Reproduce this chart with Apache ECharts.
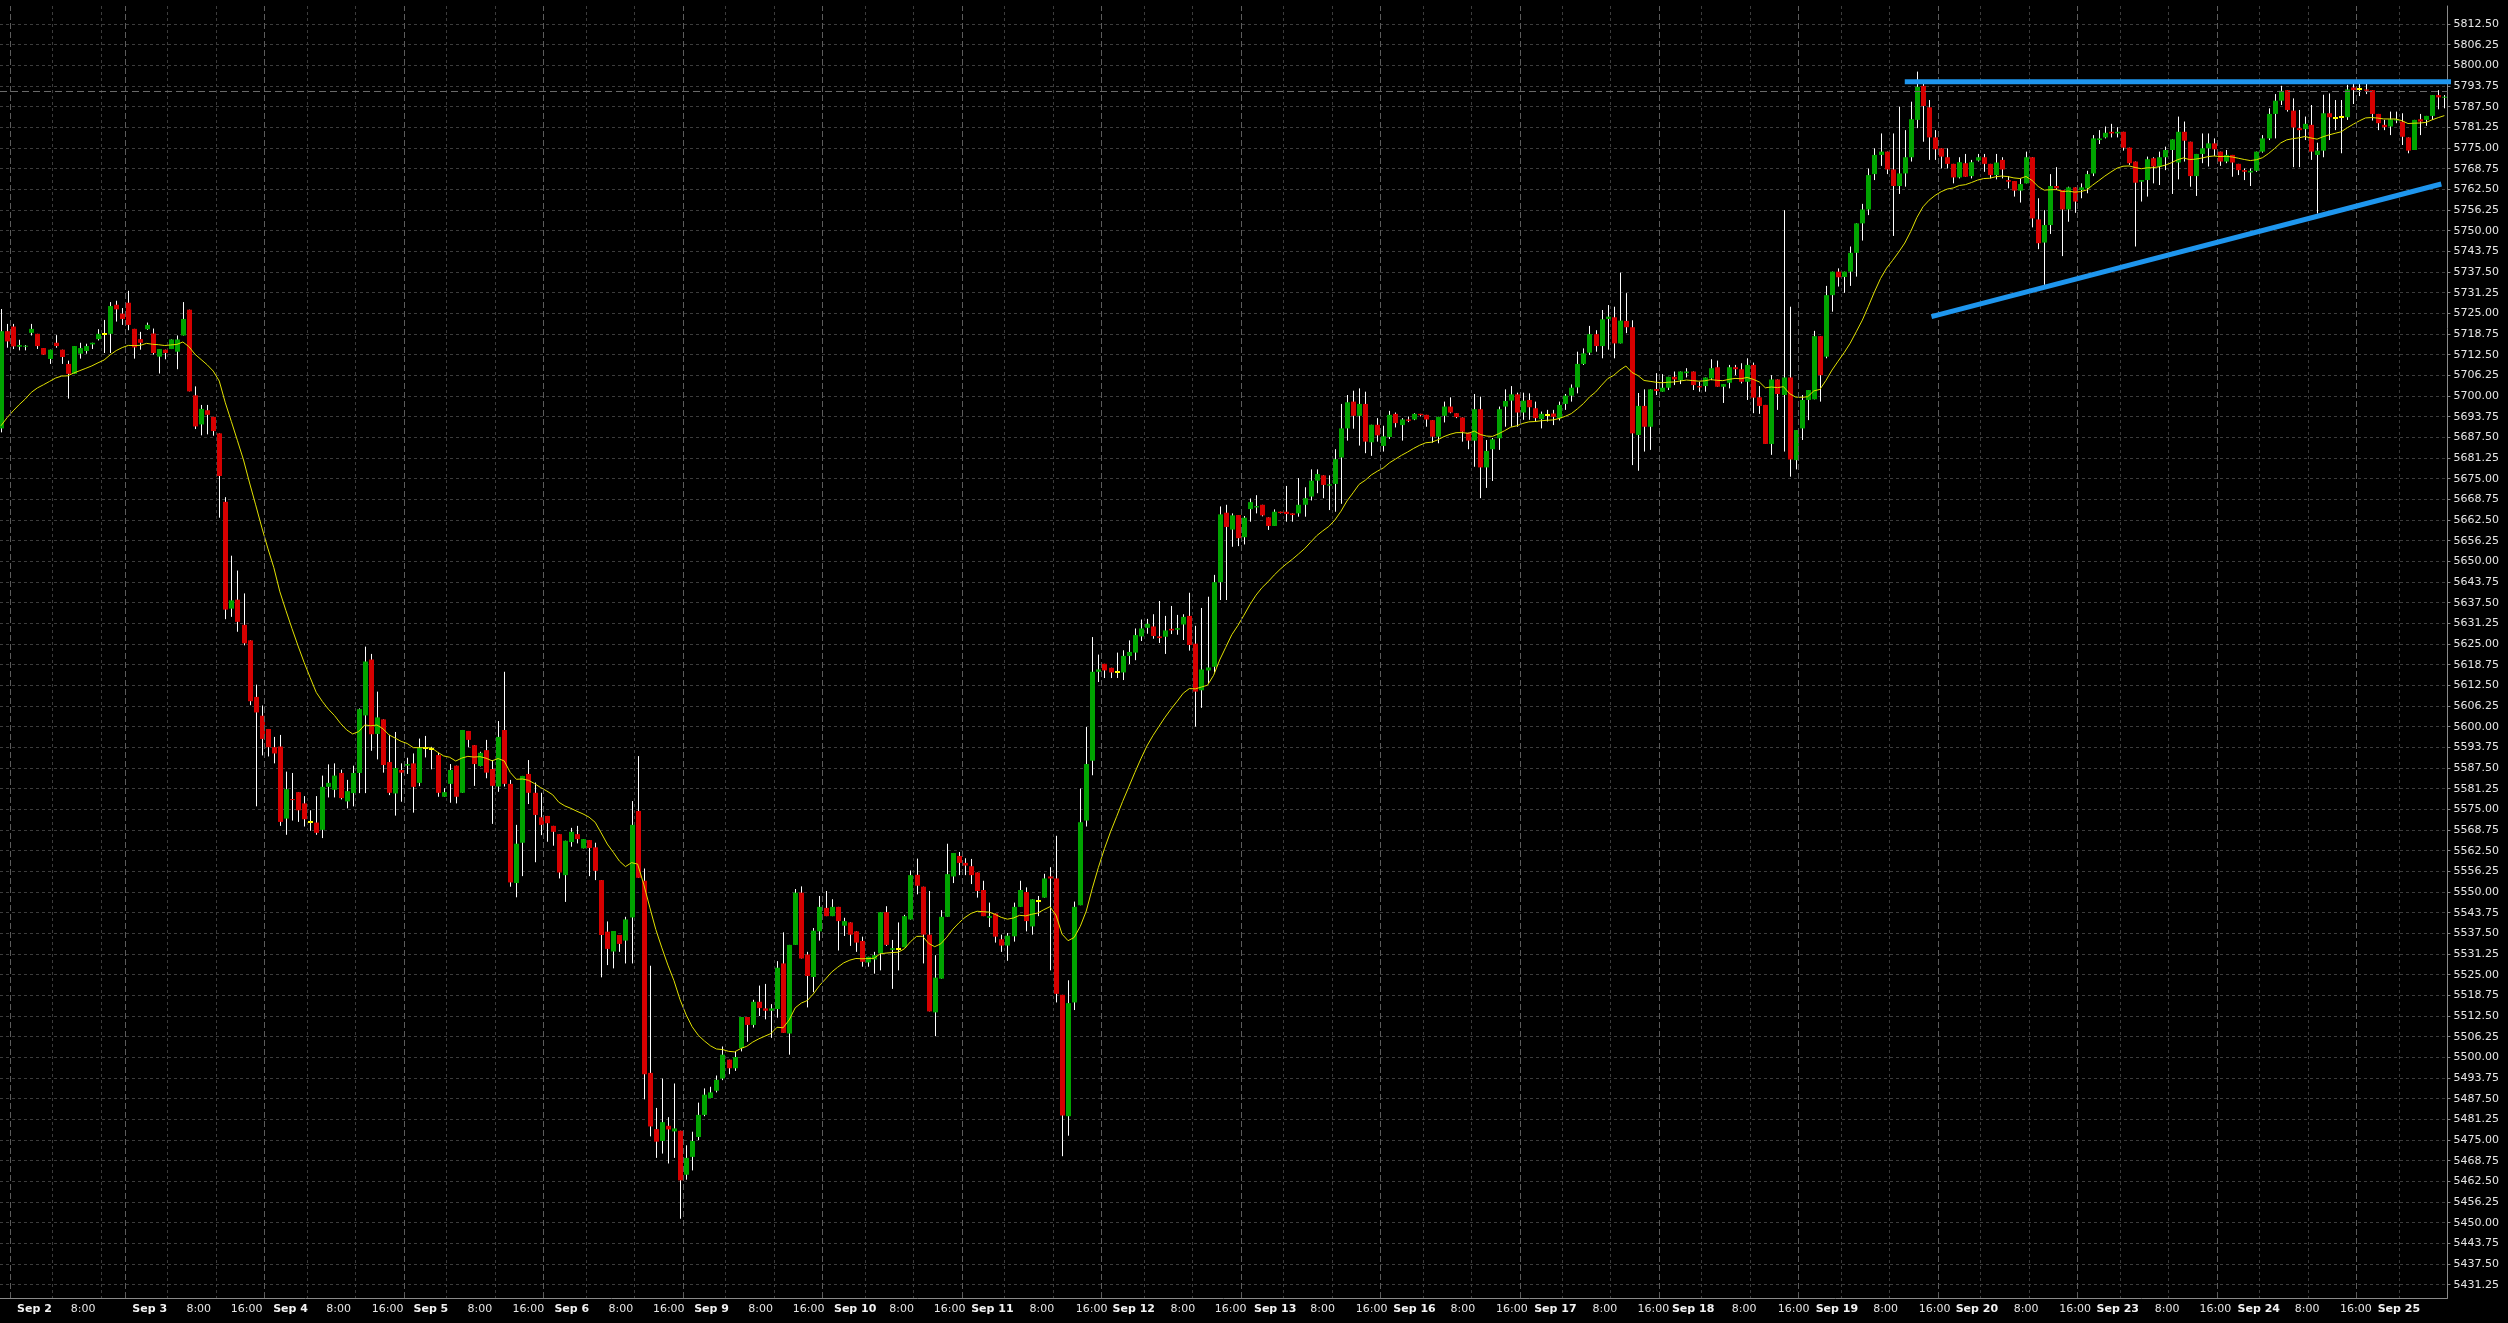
<!DOCTYPE html>
<html><head><meta charset="utf-8">
<script src="https://cdn.jsdelivr.net/npm/echarts@6/dist/echarts.min.js"></script>
<style>html,body{margin:0;padding:0;background:#000;}#c{width:2508px;height:1323px;}</style>
</head><body><div id="c"></div>
<script>
// ---- data (hourly bars, index 0 = last bar of Aug 30) ----
const opens = [
5690.2,5719.6,5721.0,5714.9,5715.0,5719.1,5718.8,5714.5,5711.2,5716.1,
5714.0,5709.7,5706.7,5712.8,5713.6,5715.6,5717.2,5718.8,5718.8,5727.6,
5724.9,5728.2,5720.3,5717.2,5720.2,5718.9,5711.9,5714.0,5714.2,5713.4,
5718.3,5726.1,5700.2,5691.4,5695.7,5693.7,5688.7,5668.0,5635.7,5638.4,
5630.8,5626.1,5609.0,5603.3,5599.3,5593.8,5594.0,5572.2,5578.1,5580.2,
5576.8,5571.2,5571.0,5568.8,5581.8,5580.9,5586.0,5577.4,5579.9,5586.0,
5603.4,5620.3,5597.8,5602.2,5589.3,5579.8,5586.9,5588.2,5588.9,5583.0,
5593.6,5593.1,5591.4,5578.8,5582.7,5588.2,5580.0,5598.7,5594.4,5588.1,
5592.9,5587.2,5581.9,5599.0,5582.7,5552.7,5564.9,5585.7,5580.0,5572.6,
5573.0,5570.0,5567.5,5555.1,5565.1,5567.5,5563.2,5565.7,5563.5,5553.6,
5538.0,5532.0,5537.0,5535.3,5542.3,5574.5,5553.4,5495.3,5478.3,5474.7,
5479.3,5477.6,5477.8,5464.5,5469.9,5475.9,5482.6,5487.7,5489.9,5493.6,
5499.3,5496.7,5502.8,5512.2,5509.8,5516.8,5514.8,5514.1,5514.6,5528.4,
5507.2,5534.0,5549.8,5531.1,5524.3,5538.1,5545.2,5542.7,5545.5,5539.8,
5540.8,5538.1,5535.2,5528.7,5529.6,5531.4,5543.9,5532.5,5532.8,5533.3,
5541.7,5555.2,5551.6,5537.1,5513.6,5523.8,5542.5,5554.7,5560.9,5558.8,
5557.8,5555.9,5550.6,5542.2,5543.5,5535.7,5533.8,5536.6,5545.5,5550.0,
5539.6,5547.4,5548.3,5554.7,5554.1,5518.9,5482.2,5516.6,5546.0,5571.6,
5589.7,5616.6,5619.0,5617.8,5616.4,5616.4,5621.4,5622.4,5627.3,5629.9,
5630.3,5627.3,5627.2,5629.6,5629.3,5630.9,5633.5,5625.1,5611.0,5617.0,
5618.1,5643.7,5664.7,5659.6,5664.0,5657.3,5665.8,5666.3,5667.1,5663.3,
5660.7,5665.0,5665.0,5664.5,5664.5,5667.1,5669.6,5674.4,5676.0,5672.9,
5673.4,5681.4,5690.2,5698.3,5694.0,5697.6,5686.0,5691.3,5684.9,5687.6,
5694.6,5691.2,5692.9,5692.9,5694.6,5694.3,5692.7,5687.7,5694.0,5696.8,
5694.8,5693.5,5688.9,5686.5,5696.0,5678.4,5683.9,5687.2,5696.8,5698.6,
5700.5,5695.0,5698.8,5696.3,5693.0,5694.2,5694.7,5693.3,5697.6,5700.1,
5702.6,5709.7,5713.1,5718.7,5715.1,5723.3,5723.8,5715.9,5722.7,5720.8,
5688.2,5697.0,5690.7,5702.1,5701.3,5702.5,5705.8,5704.8,5706.9,5707.4,
5703.0,5703.0,5705.3,5708.7,5702.8,5704.0,5708.7,5708.1,5704.3,5709.4,
5699.6,5697.3,5685.5,5705.0,5700.3,5705.6,5680.6,5690.2,5698.8,5699.0,
5718.1,5711.9,5730.5,5737.6,5736.0,5737.6,5743.3,5752.2,5756.4,5767.1,
5772.9,5773.9,5768.5,5763.5,5767.3,5772.2,5783.5,5793.8,5787.3,5778.2,
5774.9,5772.2,5770.2,5766.1,5770.4,5766.5,5771.2,5772.2,5770.2,5766.8,
5771.4,5765.3,5765.0,5762.1,5764.3,5772.2,5753.4,5746.4,5751.7,5763.5,
5762.3,5756.4,5763.1,5762.3,5762.8,5767.3,5777.4,5778.2,5779.9,5779.4,
5779.9,5775.1,5770.9,5764.8,5765.3,5771.9,5769.4,5772.2,5774.4,5770.6,
5779.9,5776.9,5766.5,5773.2,5774.9,5776.4,5773.9,5770.9,5772.9,5770.2,
5768.3,5767.6,5768.1,5773.9,5777.9,5785.3,5789.3,5792.5,5786.3,5781.0,
5780.7,5782.0,5772.9,5774.2,5785.5,5784.0,5784.3,5784.3,5793.3,5792.9,
5792.7,5792.5,5785.3,5782.0,5781.5,5783.3,5783.0,5778.2,5774.4,5783.7,
5783.5,5784.7,5791.0,5790.3];
const closes = [
5719.6,5716.5,5715.0,5715.4,5715.2,5720.3,5715.1,5712.5,5714.0,5715.1,
5711.8,5706.7,5715.1,5714.5,5715.1,5716.1,5718.8,5718.8,5727.2,5726.2,
5723.3,5721.5,5714.7,5716.1,5721.5,5713.0,5714.2,5713.0,5717.1,5717.1,
5723.3,5701.4,5690.8,5696.1,5694.3,5689.4,5675.8,5635.4,5638.2,5631.7,
5625.2,5607.7,5604.3,5596.3,5593.8,5591.9,5571.2,5581.1,5577.8,5574.7,
5572.0,5571.2,5567.9,5581.8,5583.0,5585.2,5578.4,5580.5,5586.0,5605.3,
5619.7,5597.7,5602.8,5588.4,5580.0,5587.5,5586.1,5588.7,5581.8,5593.6,
5593.6,5593.1,5580.0,5580.2,5586.9,5578.8,5599.0,5596.0,5588.7,5592.1,
5586.1,5582.1,5596.9,5582.7,5552.9,5564.6,5585.1,5580.0,5573.3,5570.3,
5570.8,5568.2,5555.9,5565.5,5568.2,5566.0,5566.0,5563.3,5556.4,5537.0,
5532.8,5538.2,5534.3,5541.7,5570.3,5554.3,5494.9,5479.1,5474.5,5480.4,
5478.2,5478.5,5462.8,5469.6,5474.7,5482.6,5488.7,5489.4,5493.2,5500.8,
5496.7,5500.1,5512.2,5509.8,5516.8,5514.9,5514.1,5514.8,5527.1,5507.4,
5534.0,5549.8,5529.9,5524.6,5538.3,5545.5,5542.7,5545.5,5541.2,5541.2,
5537.1,5534.7,5528.9,5530.4,5530.9,5543.9,5534.0,5533.0,5532.8,5542.7,
5555.1,5551.9,5537.1,5513.9,5524.1,5542.5,5555.4,5561.8,5558.8,5558.0,
5555.1,5550.3,5542.7,5542.7,5536.5,5533.8,5536.8,5545.5,5550.6,5541.2,
5547.8,5547.4,5554.1,5554.1,5519.2,5482.4,5516.4,5545.5,5571.1,5588.7,
5616.6,5617.3,5617.0,5616.4,5616.4,5621.4,5622.6,5627.7,5629.7,5631.1,
5627.4,5626.8,5629.1,5629.1,5629.8,5633.2,5624.7,5610.6,5617.3,5617.9,
5643.7,5664.2,5660.4,5663.9,5657.0,5663.2,5667.9,5666.7,5663.9,5660.7,
5665.0,5664.6,5664.3,5664.0,5667.1,5669.1,5674.4,5676.4,5673.1,5673.3,
5680.9,5690.2,5698.1,5694.0,5697.6,5686.2,5691.3,5688.1,5687.8,5694.3,
5691.8,5692.9,5692.5,5694.6,5694.2,5692.9,5687.7,5693.7,5696.8,5695.0,
5693.6,5689.2,5686.5,5696.0,5678.4,5683.4,5686.9,5696.0,5698.5,5700.5,
5695.0,5698.6,5696.6,5693.3,5694.6,5694.2,5693.7,5697.3,5700.1,5702.5,
5709.7,5712.9,5718.7,5715.1,5723.2,5724.0,5715.9,5722.8,5720.8,5688.7,
5697.0,5690.7,5702.0,5701.5,5702.5,5705.8,5705.0,5707.4,5707.4,5703.3,
5702.6,5705.6,5708.4,5702.8,5703.6,5708.7,5708.1,5704.3,5709.4,5699.5,
5697.0,5685.5,5705.0,5700.6,5705.6,5680.8,5689.7,5698.8,5701.8,5718.1,
5706.3,5730.5,5737.6,5735.9,5737.6,5743.3,5752.2,5756.4,5766.8,5772.9,
5773.9,5768.5,5763.5,5767.3,5772.2,5783.7,5793.5,5787.7,5778.2,5774.6,
5772.4,5770.2,5766.1,5770.7,5766.3,5770.7,5772.2,5770.2,5766.8,5770.6,
5768.5,5764.8,5762.1,5764.1,5772.2,5753.7,5746.2,5751.7,5763.5,5762.8,
5756.4,5763.1,5758.8,5763.1,5767.1,5777.9,5777.9,5779.6,5779.4,5779.9,
5775.1,5770.4,5764.5,5765.3,5771.6,5769.4,5772.2,5774.4,5777.6,5779.9,
5777.2,5766.5,5773.2,5774.9,5776.4,5774.6,5770.9,5772.9,5770.6,5768.3,
5767.8,5768.1,5773.9,5777.9,5785.3,5789.3,5792.3,5786.5,5781.2,5780.4,
5782.3,5773.9,5774.2,5785.5,5784.3,5784.0,5784.3,5792.7,5792.5,5792.9,
5792.3,5785.3,5782.5,5781.3,5783.7,5783.7,5778.4,5774.2,5783.5,5783.0,
5784.7,5791.0,5790.3,5790.5];
const lows = [
5689.0,5714.6,5714.2,5713.8,5713.8,5718.3,5714.2,5712.5,5709.7,5714.6,
5709.7,5699.2,5706.7,5711.3,5712.8,5714.2,5716.8,5713.0,5713.0,5722.5,
5721.5,5719.9,5711.3,5714.0,5720.0,5712.5,5706.8,5711.1,5714.2,5708.1,
5718.3,5701.4,5690.0,5688.1,5688.4,5688.0,5663.2,5632.5,5633.2,5628.7,
5624.6,5606.5,5575.9,5591.3,5591.0,5588.9,5570.0,5567.3,5571.6,5571.2,
5569.8,5568.5,5567.3,5566.3,5578.6,5578.6,5578.0,5575.3,5575.9,5579.9,
5579.9,5592.7,5590.1,5586.1,5579.3,5573.1,5577.3,5585.7,5574.0,5582.0,
5590.7,5587.1,5578.8,5578.8,5577.0,5576.8,5580.0,5593.8,5582.1,5588.0,
5584.4,5570.6,5580.3,5581.9,5551.6,5548.4,5554.8,5576.6,5559.0,5567.2,
5565.2,5564.0,5554.1,5547.0,5563.7,5564.7,5563.2,5554.8,5553.6,5524.2,
5527.9,5526.9,5531.9,5528.4,5528.4,5554.3,5487.3,5476.1,5469.6,5470.9,
5467.9,5469.6,5451.2,5463.0,5465.8,5475.0,5482.2,5487.7,5489.4,5493.1,
5494.9,5495.9,5501.8,5504.7,5509.0,5512.5,5511.5,5505.9,5512.0,5507.4,
5500.8,5534.0,5529.9,5515.1,5519.7,5535.3,5542.7,5542.7,5532.3,5536.7,
5533.7,5531.9,5527.4,5527.4,5525.3,5526.3,5533.7,5520.7,5526.3,5533.3,
5541.7,5549.3,5528.4,5513.9,5506.4,5523.8,5542.5,5552.7,5555.1,5555.1,
5552.4,5548.3,5542.7,5539.4,5534.7,5531.9,5529.2,5535.0,5545.5,5538.1,
5537.1,5542.7,5548.3,5526.3,5516.6,5470.1,5476.3,5514.3,5546.0,5569.8,
5585.3,5613.5,5614.7,5614.7,5614.7,5614.1,5618.9,5620.1,5625.9,5628.1,
5626.6,5625.3,5622.0,5628.0,5627.8,5626.2,5623.0,5600.0,5605.7,5612.9,
5616.4,5638.3,5638.3,5654.4,5654.6,5655.1,5662.0,5664.5,5663.6,5659.5,
5660.7,5664.5,5662.0,5662.0,5663.5,5663.5,5668.4,5670.6,5669.1,5665.5,
5665.0,5667.4,5686.5,5690.1,5685.0,5682.7,5681.9,5686.2,5683.2,5687.0,
5690.5,5686.5,5692.1,5692.7,5693.8,5690.7,5685.9,5685.7,5692.0,5694.8,
5693.3,5686.2,5683.9,5678.6,5669.1,5672.2,5674.3,5683.7,5690.7,5690.7,
5690.7,5692.8,5692.8,5692.3,5690.2,5692.3,5691.2,5692.6,5695.8,5698.3,
5700.8,5709.4,5712.4,5713.4,5711.4,5714.0,5711.4,5715.9,5719.0,5679.1,
5677.4,5683.2,5683.7,5700.3,5701.3,5701.8,5703.3,5703.6,5705.6,5701.8,
5701.3,5701.3,5704.8,5702.8,5697.9,5702.3,5706.3,5703.8,5698.8,5694.8,
5694.6,5685.5,5682.2,5695.8,5683.2,5675.6,5677.8,5686.7,5692.7,5699.0,
5698.3,5711.4,5725.5,5733.1,5731.2,5733.3,5736.1,5747.0,5754.7,5765.3,
5769.6,5767.1,5748.4,5761.1,5763.3,5770.9,5781.0,5776.9,5771.4,5771.4,
5768.8,5768.8,5764.3,5765.8,5766.3,5765.8,5770.9,5767.8,5765.8,5765.5,
5765.8,5762.8,5760.3,5758.5,5764.3,5751.0,5744.4,5733.6,5749.0,5762.3,
5742.3,5752.7,5755.4,5759.8,5761.3,5766.5,5776.2,5777.9,5778.2,5778.2,
5774.2,5769.9,5745.2,5758.8,5760.3,5764.3,5763.8,5768.3,5761.1,5765.5,
5770.9,5763.3,5760.5,5770.4,5769.4,5772.6,5769.6,5770.4,5766.3,5766.8,
5765.3,5763.5,5767.8,5773.6,5777.4,5777.9,5788.0,5786.0,5769.2,5769.2,
5777.4,5771.4,5755.2,5772.2,5777.4,5780.4,5773.4,5783.5,5788.3,5790.7,
5791.3,5783.3,5780.4,5780.4,5778.9,5782.5,5775.9,5773.4,5774.4,5778.9,
5781.7,5783.5,5786.7,5787.0];
const highs = [
5726.3,5721.8,5721.8,5717.0,5715.4,5721.8,5718.8,5714.5,5714.0,5718.4,
5714.0,5710.7,5715.1,5716.1,5715.8,5716.1,5720.2,5723.0,5728.4,5728.8,
5726.6,5731.8,5720.3,5719.4,5722.2,5720.4,5714.2,5714.0,5717.1,5718.3,
5728.4,5726.1,5702.9,5697.3,5697.3,5693.7,5688.7,5669.4,5651.7,5647.2,
5640.3,5626.1,5612.7,5606.4,5599.3,5596.9,5597.5,5586.4,5586.0,5580.2,
5579.0,5574.7,5579.0,5585.2,5588.6,5588.9,5587.0,5583.9,5588.2,5605.5,
5624.2,5622.0,5610.6,5602.2,5597.5,5598.4,5588.9,5590.6,5591.9,5596.4,
5597.2,5593.9,5592.1,5581.4,5588.7,5588.2,5599.0,5598.7,5594.4,5592.4,
5596.0,5589.9,5601.7,5616.6,5583.9,5570.3,5585.1,5589.9,5583.1,5580.0,
5573.0,5570.0,5567.5,5565.5,5569.4,5570.0,5566.0,5565.7,5564.9,5553.6,
5541.1,5538.2,5537.0,5542.5,5577.5,5591.1,5557.1,5527.7,5484.7,5493.6,
5481.9,5492.1,5477.8,5473.4,5477.5,5486.3,5490.6,5491.1,5494.5,5503.3,
5499.3,5501.8,5512.2,5512.2,5517.4,5521.7,5522.2,5516.1,5529.1,5537.8,
5534.0,5550.9,5551.7,5531.9,5539.1,5548.8,5550.3,5547.8,5545.5,5542.2,
5540.8,5538.1,5536.5,5530.4,5531.9,5543.9,5545.7,5535.5,5540.8,5543.1,
5556.5,5560.1,5551.6,5550.3,5530.9,5544.5,5564.6,5561.8,5562.1,5560.2,
5560.0,5555.9,5553.4,5546.8,5543.5,5537.1,5537.6,5546.8,5553.4,5551.4,
5547.8,5548.8,5555.5,5557.5,5567.0,5518.9,5523.3,5547.1,5581.3,5599.9,
5627.1,5621.8,5619.0,5617.8,5622.4,5623.1,5626.1,5629.7,5632.4,5632.6,
5634.0,5638.0,5633.5,5636.5,5633.8,5634.0,5640.5,5630.5,5635.9,5639.3,
5645.9,5666.6,5667.1,5664.5,5664.0,5663.7,5669.0,5670.0,5667.1,5663.3,
5665.7,5665.0,5672.8,5664.5,5675.2,5672.4,5677.8,5677.8,5676.0,5676.0,
5683.9,5697.6,5700.3,5701.6,5702.3,5701.3,5691.3,5693.3,5691.0,5695.5,
5695.0,5693.3,5693.8,5694.8,5694.6,5694.3,5692.7,5693.7,5698.3,5699.6,
5694.8,5693.5,5688.9,5700.6,5699.8,5686.7,5687.3,5696.8,5702.0,5703.0,
5701.0,5701.0,5700.8,5698.3,5695.3,5695.8,5695.8,5698.3,5700.6,5703.5,
5713.4,5714.4,5721.2,5719.9,5726.0,5727.5,5727.0,5737.3,5731.1,5722.9,
5700.9,5702.0,5702.0,5706.9,5706.6,5705.8,5707.4,5707.4,5708.4,5707.4,
5704.3,5705.6,5711.1,5710.7,5703.6,5709.4,5709.4,5709.9,5711.4,5710.1,
5703.0,5697.3,5706.3,5705.0,5756.2,5727.0,5689.7,5700.3,5701.8,5719.7,
5718.1,5733.3,5737.6,5738.6,5737.6,5745.2,5752.2,5758.1,5768.8,5774.9,
5779.4,5773.9,5779.4,5787.5,5780.4,5789.0,5798.1,5795.1,5789.5,5780.4,
5774.9,5774.9,5770.2,5772.2,5773.2,5771.4,5773.2,5773.2,5770.2,5773.2,
5772.2,5766.5,5765.0,5765.8,5773.9,5772.2,5759.8,5756.2,5767.1,5769.2,
5762.3,5763.3,5763.1,5764.3,5768.1,5778.9,5780.4,5781.5,5782.3,5781.3,
5779.9,5775.1,5770.9,5765.3,5772.4,5772.2,5773.9,5775.4,5777.6,5784.5,
5783.0,5776.9,5773.2,5779.4,5779.4,5777.9,5773.9,5774.4,5772.9,5770.2,
5768.8,5768.8,5773.9,5778.9,5787.0,5791.3,5793.8,5792.5,5790.0,5786.5,
5784.5,5788.0,5776.6,5791.1,5791.5,5789.5,5789.5,5794.1,5794.6,5794.6,
5794.6,5792.5,5785.3,5783.5,5786.0,5786.0,5785.5,5778.2,5783.5,5785.3,
5784.7,5791.0,5792.5,5791.0];

// first bar index of each trading day: Sep 2,3,4,5,6,9,10,11,12,13,16,17,18,19,20,23,24,25
const dayStartBar = [1,20,43,66,89,112,135,158,181,204,227,250,273,296,319,342,365,388];
// time-axis labels (position in bar units) and their texts
const xLabelPos = [2.655,11.496,21.656,30.579,37.902,44.895,53.636,61.141,68.035,76.958,84.38,
  91.274,100.198,107.521,114.333,123.256,130.579,137.39,146.512,153.835,160.02,169.65,177.26,
  183.34,192.89,200.21,206.66,215.95,223.45,229.64,239.09,246.59,252.88,262.49,269.91,275.6,
  285.47,293.04,299.31,308.81,316.3,322.4,331.97,339.47,345.64,355.22,362.63,368.89,378.31,385.8,392.0];
const xLabelText = ['Sep 2','8:00','Sep 3','8:00','16:00','Sep 4','8:00','16:00','Sep 5','8:00','16:00',
  'Sep 6','8:00','16:00','Sep 9','8:00','16:00','Sep 10','8:00','16:00','Sep 11','8:00','16:00',
  'Sep 12','8:00','16:00','Sep 13','8:00','16:00','Sep 16','8:00','16:00','Sep 17','8:00','16:00','Sep 18',
  '8:00','16:00','Sep 19','8:00','16:00','Sep 20','8:00','16:00','Sep 23','8:00','16:00','Sep 24','8:00','16:00','Sep 25'];
const yTicks = [5431.25,5437.5,5443.75,5450,5456.25,5462.5,5468.75,5475,5481.25,5487.5,5493.75,5500,
  5506.25,5512.5,5518.75,5525,5531.25,5537.5,5543.75,5550,5556.25,5562.5,5568.75,5575,5581.25,5587.5,
  5593.75,5600,5606.25,5612.5,5618.75,5625,5631.25,5637.5,5643.75,5650,5656.25,5662.5,5668.75,5675,
  5681.25,5687.5,5693.75,5700,5706.25,5712.5,5718.75,5725,5731.25,5737.5,5743.75,5750,5756.25,5762.5,
  5768.75,5775,5781.25,5787.5,5793.75,5800,5806.25,5812.5];
const maPeriod = 20;          // exponential moving average of closes
const maStart = 5688;         // MA value at left edge
const bidLevel = 5792.25;
const resistanceLine = [[314.0, 5795.05], [404.75, 5795.05]];
const supportLine = [[318.4, 5724.0], [402.5, 5764.1]];

// ---- build ----
const N = opens.length;
const candleData = [];
for (let i = 0; i < N; i++) candleData.push([i, opens[i], closes[i], lows[i], highs[i]]);
const ma = [];
let e = maStart; const a = 2 / (maPeriod + 1);
for (let i = 0; i < N; i++) { e = e + a * (closes[i] - e); ma.push([i, +e.toFixed(3)]); }
const gridBars = [];
dayStartBar.forEach(d => { gridBars.push(d + 7.5, d + 15.5); });

const chart = echarts.init(document.getElementById('c'), null, {renderer: 'canvas'});
const GREEN = '#00a300', RED = '#d60000', DOJI = '#ffff00';
chart.setOption({
  animation: false,
  backgroundColor: '#000000',
  grid: {left: 0, right: 60.6, top: 6, bottom: 25, containLabel: false},
  xAxis: {
    type: 'value', min: -0.165, max: 403.5,
    axisLine: {show: true, onZero: false, lineStyle: {color: '#8a8a8a', width: 1}},
    axisTick: {show: false, customValues: gridBars},
    splitLine: {show: true, lineStyle: {color: '#3c3c3c', width: 1, type: [3, 3]}},
    axisLabel: {
      customValues: xLabelPos, align: 'left', margin: 6,
      formatter: function (v) {
        const k = xLabelPos.findIndex(p => Math.abs(p - v) < 1e-6);
        if (k < 0) return '';
        const t = xLabelText[k];
        return t.indexOf(':') >= 0 ? '{n|' + t + '}' : '{b|' + t + '}';
      },
      rich: {
        b: {fontFamily: 'DejaVu Sans', fontSize: 11, fontWeight: 'bold', color: '#f2f2f2'},
        n: {fontFamily: 'DejaVu Sans', fontSize: 11, fontWeight: 'normal', color: '#e6e6e6'}
      }
    }
  },
  yAxis: {
    type: 'value', position: 'right', min: 5427.22, max: 5817.94, scale: true,
    axisLine: {show: true, onZero: false, lineStyle: {color: '#8a8a8a', width: 1}},
    axisTick: {show: true, customValues: yTicks, length: 3, lineStyle: {color: '#8a8a8a'}},
    splitLine: {show: true, lineStyle: {color: '#3c3c3c', width: 1, type: [3, 3]}},
    axisLabel: {customValues: yTicks, margin: 6, color: '#e6e6e6', fontFamily: 'DejaVu Sans', fontSize: 11,
      formatter: v => Number(v).toFixed(2)}
  },
  series: [
    {
      type: 'custom', name: 'price', data: candleData, clip: true, z: 2,
      encode: {x: 0, y: [1, 2, 3, 4]},
      renderItem: function (params, api) {
        const i = api.value(0), o = api.value(1), c = api.value(2), l = api.value(3), h = api.value(4);
        const pO = api.coord([i, o]), pC = api.coord([i, c]), pL = api.coord([i, l]), pH = api.coord([i, h]);
        const cx = Math.round(pO[0]);
        const ch = [{type: 'line', shape: {x1: cx + 0.5, y1: pH[1], x2: cx + 0.5, y2: pL[1]},
          style: {stroke: '#ffffff', lineWidth: 1}}];
        const top = Math.min(pO[1], pC[1]), bot = Math.max(pO[1], pC[1]);
        if (o === c) {
          ch.push({type: 'rect', shape: {x: cx - 2, y: Math.round(top) - 1, width: 5, height: 2}, style: {fill: DOJI}});
        } else {
          ch.push({type: 'rect', shape: {x: cx - 2, y: top, width: 5, height: Math.max(bot - top, 1)},
            style: {fill: c > o ? GREEN : RED}});
        }
        return {type: 'group', children: ch};
      }
    },
    {
      type: 'line', name: 'MA', data: ma, symbol: 'none', z: 3, silent: true,
      lineStyle: {color: '#e1e100', width: 1},
      markLine: {
        silent: true, symbol: ['none', 'none'], label: {show: false}, animation: false,
        data: dayStartBar.map(d => ({xAxis: d + 0.5, lineStyle: {color: '#5c5c5c', width: 1, type: [6, 3]}}))
          .concat([{yAxis: bidLevel, lineStyle: {color: '#6a6a6a', width: 1, type: [7, 4]}}])
      }
    },
    {
      type: 'line', name: 'resistance', data: resistanceLine, symbol: 'none', z: 5, clip: false, silent: true,
      lineStyle: {color: '#1e96ee', width: 5, cap: 'butt'}
    },
    {
      type: 'line', name: 'support', data: supportLine, symbol: 'none', z: 5, clip: false, silent: true,
      lineStyle: {color: '#1e96ee', width: 5, cap: 'butt'}
    }
  ]
});
</script></body></html>
